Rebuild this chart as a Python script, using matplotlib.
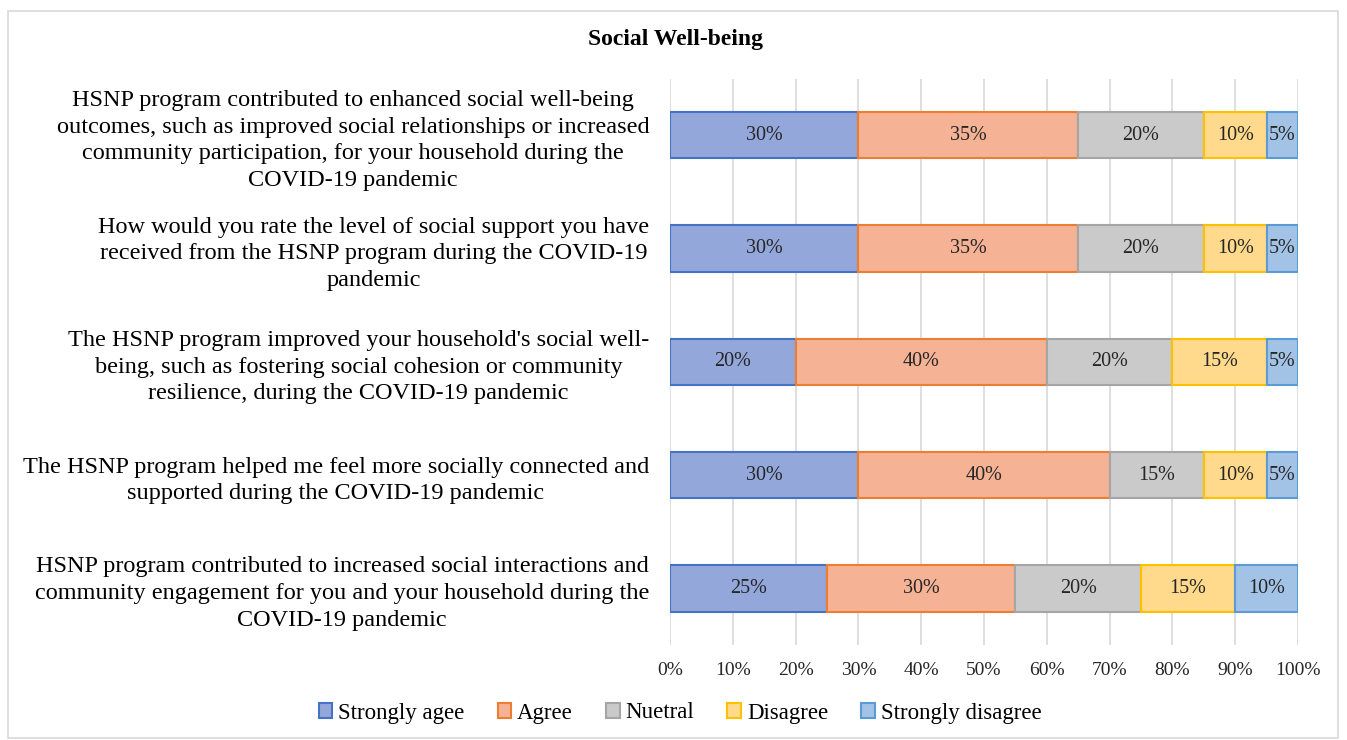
import matplotlib
matplotlib.use("Agg")
import matplotlib.pyplot as plt
from matplotlib.patches import Rectangle, Patch

plt.rcParams['font.family'] = ['Liberation Serif', 'DejaVu Serif']

questions = [
    "HSNP program contributed to enhanced social well-being\noutcomes, such as improved social relationships or increased\ncommunity participation, for your household during the\nCOVID-19 pandemic",
    "How would you rate the level of social support you have\nreceived from the HSNP program during the COVID-19\npandemic",
    "The HSNP program improved your household's social well-\nbeing, such as fostering social cohesion or community\nresilience, during the COVID-19 pandemic",
    "The HSNP program helped me feel more socially connected and\nsupported during the COVID-19 pandemic",
    "HSNP program contributed to increased social interactions and\ncommunity engagement for you and your household during the\nCOVID-19 pandemic",
]
categories = ["Strongly agee", "Agree", "Nuetral", "Disagree", "Strongly disagree"]
strongly_agree = [30, 30, 20, 30, 25]
agree = [35, 35, 40, 40, 30]
neutral = [20, 20, 20, 15, 20]
disagree = [10, 10, 15, 10, 15]
strongly_disagree = [5, 5, 5, 5, 10]
xticks = [0, 10, 20, 30, 40, 50, 60, 70, 80, 90, 100]

series = [strongly_agree, agree, neutral, disagree, strongly_disagree]
fills = ["#93A7DA", "#F5B294", "#CACACA", "#FFD98C", "#A3C3E6"]
edges = ["#4472C4", "#ED7D31", "#A5A5A5", "#FFC000", "#5B9BD5"]

fig = plt.figure(figsize=(13.47, 7.40), dpi=100)
fig.patches.append(Rectangle((8/1347, 2/740), 1330/1347, 727/740, transform=fig.transFigure,
                             fill=False, edgecolor="#D9D9D9", linewidth=1.2))
ax = fig.add_axes([670/1347, 1 - 645/740, 628/1347, (645 - 78.5)/740])

ypos = list(range(len(questions)))
left = [0] * len(questions)
for vals, fc, ec, name in zip(series, fills, edges, categories):
    bars = ax.barh(ypos, vals, left=left, height=0.41, color=fc, edgecolor=ec,
                   linewidth=1.5, label=name, zorder=3)
    for b, v in zip(bars, vals):
        ax.text(b.get_x() + b.get_width() / 2, b.get_y() + b.get_height() / 2,
                f"{v}%", ha="center", va="center", fontsize=14.5, color="#262626", zorder=4)
    left = [l + v for l, v in zip(left, vals)]

ax.set_ylim(len(questions) - 0.5, -0.5)
ax.set_xlim(0, 100)
ax.set_xticks(xticks)
ax.set_xticklabels([f"{t}%" for t in xticks], fontsize=14, color="#262626")
ax.set_yticks(ypos)
ax.set_yticklabels(questions, fontsize=17.5, color="#000000", multialignment="center",
                   linespacing=1.36)
ax.tick_params(axis="x", length=0, pad=12)
ax.tick_params(axis="y", length=0, pad=15)
ax.grid(axis="x", color="#D9D9D9", linewidth=1.2, zorder=0)
for s in ax.spines.values():
    s.set_visible(False)

fig.text(675/1347, 1 - 40/740, "Social Well-being", ha="center", va="center",
         fontsize=17, fontweight="bold")

handles = [Patch(facecolor=fc, edgecolor=ec, linewidth=1.5) for fc, ec in zip(fills, edges)]
fig.legend(handles, categories, loc="center", bbox_to_anchor=(680/1347, 1 - 713/740),
           ncol=5, frameon=False, fontsize=16.5, handlelength=0.6, handleheight=0.6,
           handletextpad=0.25, columnspacing=1.45)

fig.savefig("out.png", dpi=100)
